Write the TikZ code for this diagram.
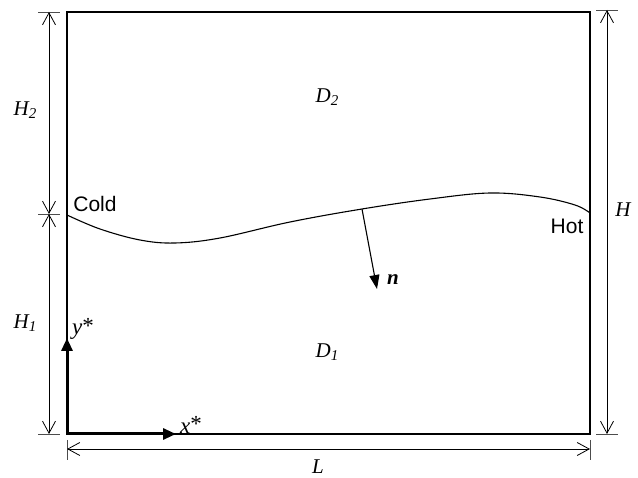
\documentclass[tikz,border=0pt]{standalone}
\usepackage{fontspec}
\setmainfont{Liberation Serif}
\newfontfamily\arialfont{Liberation Sans}
\usetikzlibrary{arrows.meta}
\begin{document}
\begin{tikzpicture}[x=1pt,y=-1pt,
  dimline/.style={line width=0.8pt,{Straight Barb[length=12pt,width=13pt]}-{Straight Barb[length=12pt,width=13pt]}},
  tick/.style={line width=0.8pt,black!70},
  wall/.style={line width=1.4pt},
  axisarrow/.style={line width=3pt,-{Triangle[length=13pt,width=11pt]}},
  lbl/.style={font=\fontsize{21}{24}\selectfont\itshape,inner sep=0pt},
  sub/.style={},
  sflbl/.style={font=\fontsize{21}{24}\selectfont\arialfont,inner sep=0pt}]
\useasboundingbox (0,0) rectangle (638,478);
% box
\coordinate (tl) at (67,12);
\coordinate (tr) at (590,12);
\coordinate (br) at (590,434);
\coordinate (bl) at (67,434);
\draw[wall] (tl) -- (tr) -- (br) -- (bl) -- cycle;
% interface
\draw[line width=1.1pt] plot[smooth,tension=0.6] coordinates {(67,215) (100,229) (140,240) (175,243) (220,238) (290,222) (362,209) (430,199) (490,193) (540,197) (575,205) (590,213)};
% left dimension
\coordinate (lt) at (49,12);
\coordinate (lm) at (49,214);
\coordinate (lb) at (49,434);
\draw[tick] (38,12) -- (60,12);
\draw[tick] (38,214) -- (60,214);
\draw[tick] (38,434) -- (60,434);
\draw[dimline] (lt) -- (lm);
\draw[dimline] (lm) -- (lb);
% right dimension
\coordinate (rt) at (607,10);
\coordinate (rb) at (607,434);
\draw[tick] (596,10) -- (618,10);
\draw[tick] (596,434) -- (618,434);
\draw[dimline] (rt) -- (rb);
% bottom dimension
\coordinate (bdl) at (67,449);
\coordinate (bdr) at (590,449);
\draw[tick] (67,440) -- (67,460);
\draw[tick] (590,440) -- (590,460);
\draw[dimline] (bdl) -- (bdr);
% axes
\coordinate (o) at (67,434);
\coordinate (xa) at (176,434);
\coordinate (ya) at (67,338);
\draw[axisarrow] (o) -- (xa);
\draw[axisarrow] (o) -- (ya);
% normal
\coordinate (np) at (362,209);
\coordinate (nt) at (377,289);
\draw[line width=1.1pt,-{Triangle[length=14pt,width=10pt]}] (np) -- (nt);
% labels
\node[lbl] (h2) at (25,110) {H\raisebox{-0.35ex}{\fontsize{15}{17}\selectfont 2}};
\node[lbl] (h1) at (25,323) {H\raisebox{-0.35ex}{\fontsize{15}{17}\selectfont 1}};
\node[lbl] (hh) at (623,210) {H};
\node[lbl] (ll) at (318,467) {L};
\node[lbl] (d2) at (327,97) {D\raisebox{-0.35ex}{\fontsize{15}{17}\selectfont 2}};
\node[lbl] (d1) at (327,352) {D\raisebox{-0.35ex}{\fontsize{15}{17}\selectfont 1}};
\node[lbl,font=\fontsize{23}{26}\selectfont\itshape] (xs) at (191,425) {x\upshape\raisebox{0.15ex}{*}};
\node[lbl,font=\fontsize{23}{26}\selectfont\itshape] (ys) at (83,329) {y\upshape\raisebox{0.15ex}{*}};
\node[lbl,font=\fontsize{21}{24}\selectfont\bfseries\itshape] (nn) at (393,280) {n};
\node[sflbl] (cold) at (95,204) {Cold};
\node[sflbl] (hot) at (567,226) {Hot};
\end{tikzpicture}
\end{document}
